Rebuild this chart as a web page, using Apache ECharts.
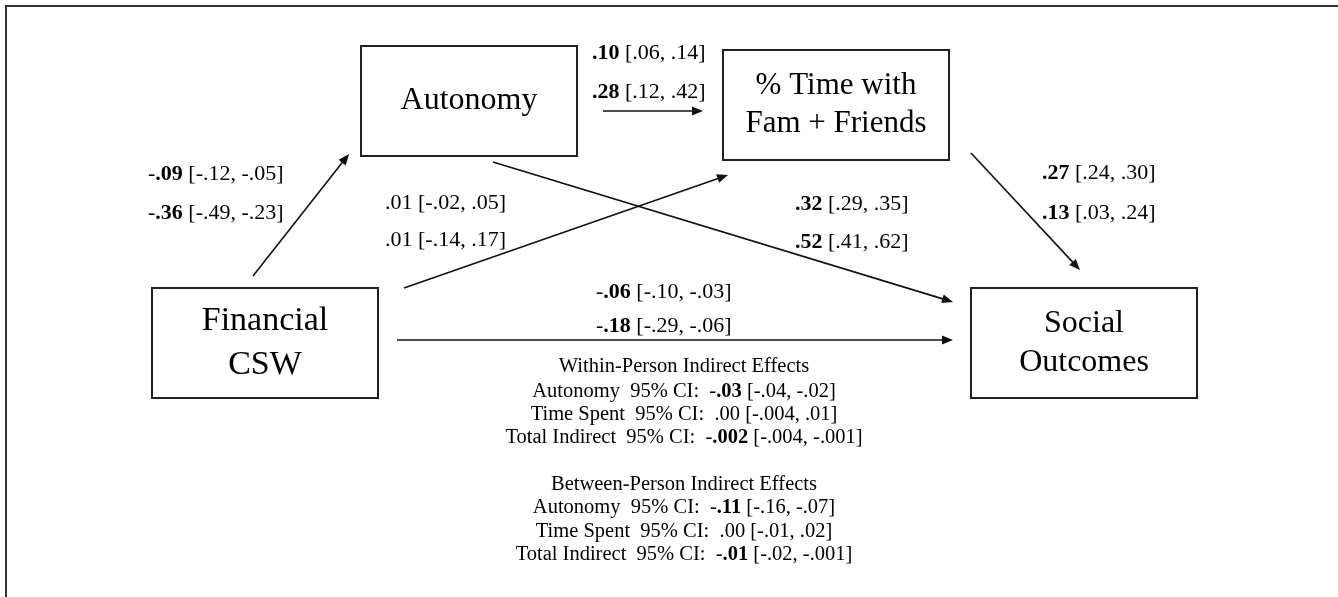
<!DOCTYPE html>
<html><head><meta charset="utf-8">
<script src="https://cdn.jsdelivr.net/npm/echarts@6/dist/echarts.min.js"></script>
<style>html,body{margin:0;padding:0;background:#fff}#c{width:1338px;height:597px}</style>
</head><body><div id="c"></div>
<script>
// ---- data ----
const nodeNames = ['Autonomy', '% Time with\nFam + Friends', 'Financial\nCSW', 'Social\nOutcomes'];
const pathFrom = [2, 0, 2, 0, 1, 2];
const pathTo   = [0, 1, 1, 3, 3, 3];
const withinEst  = ['-.09', '.10', '.01', '.32', '.27', '-.06'];
const withinCI   = ['[-.12, -.05]', '[.06, .14]', '[-.02, .05]', '[.29, .35]', '[.24, .30]', '[-.10, -.03]'];
const withinSig  = [true, true, false, true, true, true];
const betweenEst = ['-.36', '.28', '.01', '.52', '.13', '-.18'];
const betweenCI  = ['[-.49, -.23]', '[.12, .42]', '[-.14, .17]', '[.41, .62]', '[.03, .24]', '[-.29, -.06]'];
const betweenSig = [true, true, false, true, true, true];
const indirectNames = ['Autonomy', 'Time Spent', 'Total Indirect'];
const withinIndEst  = ['-.03', '.00', '-.002'];
const withinIndCI   = ['[-.04, -.02]', '[-.004, .01]', '[-.004, -.001]'];
const withinIndSig  = [true, false, true];
const betweenIndEst = ['-.11', '.00', '-.01'];
const betweenIndCI  = ['[-.16, -.07]', '[-.01, .02]', '[-.02, -.001]'];
const betweenIndSig = [true, false, true];
const blockTitles = ['Within-Person Indirect Effects', 'Between-Person Indirect Effects'];

// ---- layout (pixel space of the diagram) ----
const W = 1338, H = 597;
const boxRect = [[361, 46, 577, 156], [723, 50, 949, 160], [152, 288, 378, 398], [971, 288, 1197, 398]];
const boxFont = [32, 31, 34, 32];
const boxLineGap = [0, 38, 44, 39];
const arrowStart = [[253, 276], [603, 111], [404, 288], [493, 162], [971, 153], [397, 340]];
const arrowEnd   = [[349, 154], [703, 111], [728, 175], [953, 302], [1080, 270], [953, 340]];
const labelLeft  = [148, 592, 385, 795, 1042, 596];
const labelTopY  = [174, 53, 203, 204, 173, 292];
const labelGap   = [39, 39, 37, 38, 40, 34];
const blockCX = 684;
const blockY = [[367, 392, 415, 438], [485, 508, 532, 555]];

const SERIF = '"Liberation Serif", "Times New Roman", serif';
function fmt(est, ci, sig, pre) {
  const neg = est.charAt(0) === '-';
  const body = neg ? est.slice(1) : est;
  return (pre || '') + (sig ? (neg ? '-' : '') + '{b|' + body + '} ' + ci : est + ' ' + ci);
}

// text items
const textItems = [];
for (let i = 0; i < pathFrom.length; i++) {
  textItems.push([labelLeft[i], labelTopY[i], fmt(withinEst[i], withinCI[i], withinSig[i]), 22, 'left']);
  textItems.push([labelLeft[i], labelTopY[i] + labelGap[i], fmt(betweenEst[i], betweenCI[i], betweenSig[i]), 22, 'left']);
}
const blocks = [[withinIndEst, withinIndCI, withinIndSig], [betweenIndEst, betweenIndCI, betweenIndSig]];
blocks.forEach((b, k) => {
  textItems.push([blockCX, blockY[k][0], blockTitles[k], 20.5, 'center']);
  for (let j = 0; j < indirectNames.length; j++) {
    textItems.push([blockCX, blockY[k][j + 1], fmt(b[0][j], b[1][j], b[2][j], indirectNames[j] + '  95% CI:  '), 20.5, 'center']);
  }
});

const boxData = boxRect.map((r, i) => [r[0], r[1], r[2], r[3], i]);
const arrowData = pathFrom.map((f, i) => [arrowStart[i][0], arrowStart[i][1], arrowEnd[i][0], arrowEnd[i][1], i]);

const chart = echarts.init(document.getElementById('c'), null, { renderer: 'canvas' });
chart.setOption({
  backgroundColor: '#ffffff',
  animation: false,
  grid: { left: 0, right: 0, top: 0, bottom: 0 },
  xAxis: { type: 'value', min: 0, max: W, show: false },
  yAxis: { type: 'value', min: 0, max: H, inverse: true, show: false },
  graphic: [{
    type: 'polyline',
    shape: { points: [[6, H + 2], [6, 6], [W + 2, 6]] },
    style: { stroke: '#333', lineWidth: 2, fill: null }
  }],
  series: [
    {
      type: 'custom', data: boxData, silent: true,
      renderItem: function (params, api) {
        const p0 = api.coord([api.value(0), api.value(1)]);
        const p1 = api.coord([api.value(2), api.value(3)]);
        const idx = api.value(4);
        const cx = (p0[0] + p1[0]) / 2, cy = (p0[1] + p1[1]) / 2;
        const lines = nodeNames[idx].split('\n');
        const children = [{
          type: 'rect',
          shape: { x: p0[0], y: p0[1], width: p1[0] - p0[0], height: p1[1] - p0[1] },
          style: { fill: '#fff', stroke: '#222', lineWidth: 2 }
        }];
        lines.forEach((t, j) => {
          const off = (j - (lines.length - 1) / 2) * boxLineGap[idx];
          children.push({
            type: 'text',
            style: { text: t, x: cx, y: cy + off, align: 'center', verticalAlign: 'middle',
              fontSize: boxFont[idx], fontFamily: SERIF, fill: '#000' }
          });
        });
        return { type: 'group', children: children };
      }
    },
    {
      type: 'custom', data: arrowData, silent: true,
      renderItem: function (params, api) {
        const a = api.coord([api.value(0), api.value(1)]);
        const b = api.coord([api.value(2), api.value(3)]);
        const dx = b[0] - a[0], dy = b[1] - a[1];
        const len = Math.sqrt(dx * dx + dy * dy);
        const ux = dx / len, uy = dy / len;
        const hl = 11, hw = 4.5;
        const bx = b[0] - ux * hl, by = b[1] - uy * hl;
        return {
          type: 'group',
          children: [
            { type: 'line', shape: { x1: a[0], y1: a[1], x2: bx + ux * 2, y2: by + uy * 2 },
              style: { stroke: '#111', lineWidth: 1.6 } },
            { type: 'polygon',
              shape: { points: [[b[0], b[1]], [bx - uy * hw, by + ux * hw], [bx + uy * hw, by - ux * hw]] },
              style: { fill: '#111' } }
          ]
        };
      }
    },
    {
      type: 'custom', data: textItems.map((t, i) => [t[0], t[1], i]), silent: true,
      renderItem: function (params, api) {
        const p = api.coord([api.value(0), api.value(1)]);
        const t = textItems[api.value(2)];
        return {
          type: 'text',
          style: {
            text: t[2], x: p[0], y: p[1], align: t[4], verticalAlign: 'middle',
            fontSize: t[3], fontFamily: SERIF, fill: '#000',
            rich: { b: { fontWeight: 'bold', fontSize: t[3], fontFamily: SERIF, fill: '#000' } }
          }
        };
      }
    }
  ]
});
</script></body></html>
